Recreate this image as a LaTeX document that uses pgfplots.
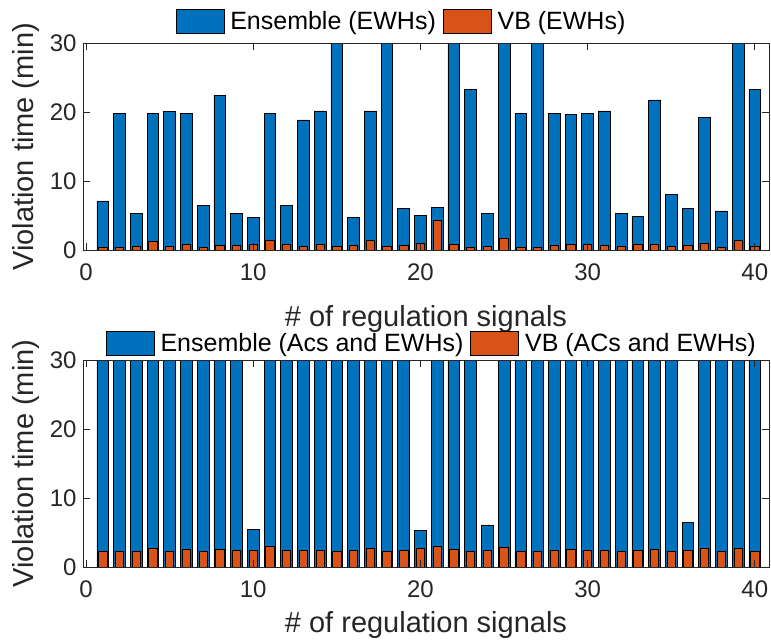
\documentclass[border=0pt]{standalone}
\usepackage{fontspec}
\setmainfont{Liberation Sans}
\usepackage{pgfplots}
\usepackage{pgfplotstable}
\pgfplotsset{compat=1.18}
\definecolor{mblue}{rgb}{0,0.447,0.741}
\definecolor{morange}{rgb}{0.85,0.325,0.098}
\definecolor{axgray}{rgb}{0.15,0.15,0.15}

\pgfplotstableread{
x ens vb
1 7.15 0.5
2 19.8 0.5
3 5.4 0.6
4 19.8 1.3
5 20.1 0.6
6 19.8 0.9
7 6.5 0.45
8 22.5 0.7
9 5.4 0.7
10 4.8 0.9
11 19.8 1.5
12 6.5 0.8
13 18.9 0.6
14 20.2 0.8
15 35 0.6
16 4.8 0.7
17 20.2 1.4
18 35 0.6
19 6.1 0.7
20 5.0 1.0
21 6.2 4.3
22 35 0.9
23 23.3 0.5
24 5.4 0.6
25 35 1.8
26 19.8 0.5
27 35 0.5
28 19.8 0.7
29 19.7 0.8
30 19.8 0.8
31 20.2 0.7
32 5.4 0.6
33 4.9 0.8
34 21.8 0.9
35 8.1 0.6
36 6.1 0.7
37 19.3 1.0
38 5.7 0.4
39 35 1.4
40 23.3 0.6
}\topdata

\pgfplotstableread{
x ens vb
1 35 2.3
2 35 2.3
3 35 2.3
4 35 2.65
5 35 2.3
6 35 2.5
7 35 2.2
8 35 2.5
9 35 2.4
10 5.4 2.45
11 35 3.0
12 35 2.4
13 35 2.35
14 35 2.4
15 35 2.3
16 35 2.35
17 35 2.65
18 35 2.3
19 35 2.35
20 5.3 2.65
21 35 2.95
22 35 2.55
23 35 2.3
24 6.1 2.35
25 35 2.8
26 35 2.3
27 35 2.3
28 35 2.35
29 35 2.5
30 35 2.4
31 35 2.35
32 35 2.3
33 35 2.4
34 35 2.5
35 35 2.3
36 6.5 2.35
37 35 2.7
38 35 2.2
39 35 2.7
40 35 2.3
}\botdata

\begin{document}
\begin{tikzpicture}
\pgfplotsset{
  myaxis/.style={
    scale only axis, width=686pt, height=207pt,
    xmin=-0.18, xmax=40.85, ymin=0, ymax=30,
    xtick={0,10,20,30,40}, ytick={0,10,20,30},
    tick align=inside, major tick length=7pt,
    axis on top,
    axis line style={axgray, line width=0.8pt},
    every tick/.style={axgray, line width=0.8pt},
    tick label style={font=\fontsize{24}{24}\selectfont, text=axgray},
    xticklabel style={yshift=-10pt},
    yticklabel style={xshift=-3pt},
    /pgf/number format/assume math mode=true,
    label style={font=\fontsize{29}{29}\selectfont, text=axgray},
    ylabel={Violation time (min)},
    xlabel={\# of regulation signals},
    ylabel style={at={(axis description cs:-0.0831,0.5)}, anchor=center},
    legend style={draw=none, fill=none, anchor=center, legend columns=2,
      font=\fontsize{25}{25}\selectfont, nodes={inner sep=0pt},
      /tikz/every odd column/.append style={column sep=6pt},
      /tikz/every even column/.append style={column sep=7pt}},
  },
  ensbar/.style={ybar, bar width=0.7, bar shift=0pt, fill=mblue, draw=black, line width=0.7pt, forget plot},
  vbbar/.style={ybar, bar width=0.5, bar shift=0pt, fill=morange, draw=black, line width=0.7pt, forget plot},
}
\path[use as bounding box] (-83pt,43.3pt) rectangle (688pt,-599.7pt);

\begin{axis}[myaxis, at={(0pt,0pt)}, anchor=north west,
  xlabel style={at={(axis description cs:0.5,-0.331)}, anchor=center},
  legend style={at={(axis description cs:0.4628,1.106)}}]
\addplot[ensbar] table[x=x, y=ens] {\topdata};
\addplot[vbbar] table[x=x, y=vb] {\topdata};
\addlegendimage{legend image code/.code={\draw[fill=mblue, draw=black, line width=0.7pt] (0pt,-12pt) rectangle (48pt,12pt);}}
\addlegendentry{Ensemble (EWHs)}
\addlegendimage{legend image code/.code={\draw[fill=morange, draw=black, line width=0.7pt] (0pt,-12pt) rectangle (48pt,12pt);}}
\addlegendentry{VB (EWHs)}
\end{axis}

\begin{axis}[myaxis, at={(0pt,-316.7pt)}, anchor=north west,
  xlabel style={at={(axis description cs:0.5,-0.282)}, anchor=center},
  legend style={at={(axis description cs:0.507,1.082)}}]
\addplot[ensbar] table[x=x, y=ens] {\botdata};
\addplot[vbbar] table[x=x, y=vb] {\botdata};
\addlegendimage{legend image code/.code={\draw[fill=mblue, draw=black, line width=0.7pt] (0pt,-12pt) rectangle (48pt,12pt);}}
\addlegendentry{Ensemble (Acs and EWHs)}
\addlegendimage{legend image code/.code={\draw[fill=morange, draw=black, line width=0.7pt] (0pt,-12pt) rectangle (48pt,12pt);}}
\addlegendentry{VB (ACs and EWHs)}
\end{axis}
\end{tikzpicture}
\end{document}
